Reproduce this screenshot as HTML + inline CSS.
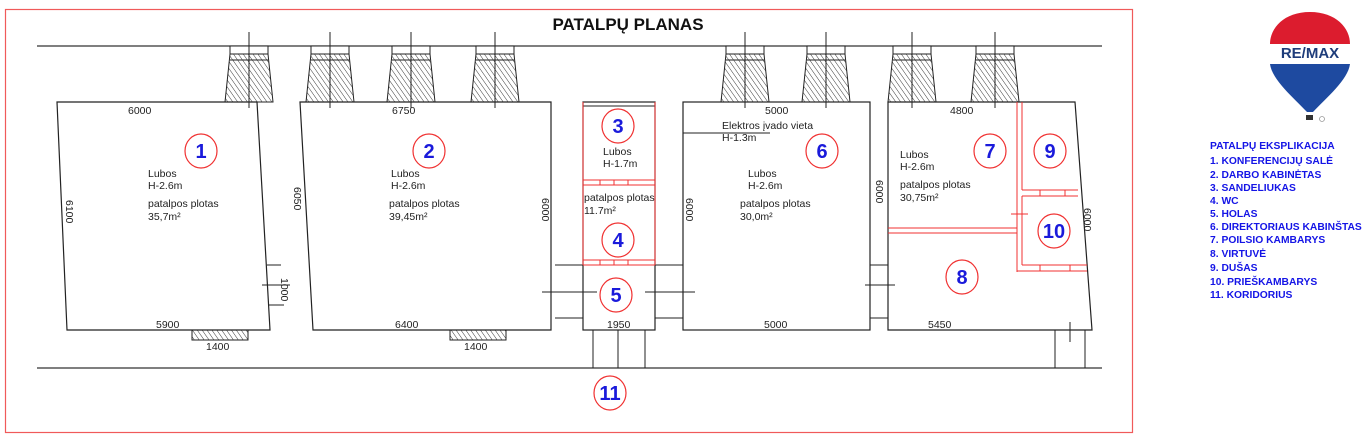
<!DOCTYPE html>
<html><head><meta charset="utf-8"><style>
body{margin:0;background:#fff;width:1366px;height:445px;overflow:hidden}
svg{display:block}
text{font-family:"Liberation Sans",Arial,sans-serif}
.t{font-size:10.5px;fill:#222}
.n{font-size:20px;font-weight:bold;fill:#1a1adb;text-anchor:middle}
.l{font-size:10.3px;font-weight:bold;fill:#1414e6}
</style></head><body>
<svg width="1366" height="445" viewBox="0 0 1366 445">
<defs>
<pattern id="h" width="4" height="4" patternUnits="userSpaceOnUse" patternTransform="rotate(-35)">
<line x1="0" y1="0" x2="0" y2="4" stroke="#222" stroke-width="0.9"/></pattern>
<g id="c">
<rect x="-19" y="46" width="38" height="8" fill="#fff"/>
<polygon points="-19,54 19,54 24,102 -24,102" fill="url(#h)"/>
<line x1="-19" y1="60" x2="19" y2="60"/>
<line x1="0" y1="32" x2="0" y2="108"/>
</g>
</defs>
<rect x="5.5" y="9.5" width="1127" height="423" fill="none" stroke="#f05a5a" stroke-width="1.2"/>
<text x="628" y="30" font-size="17" font-weight="bold" text-anchor="middle" fill="#111">PATALPŲ PLANAS</text>
<g stroke="#333" stroke-width="1.2" fill="none">
<line x1="37" y1="46" x2="1102" y2="46"/>
<line x1="37" y1="368" x2="1102" y2="368"/>
</g>
<g stroke="#222" stroke-width="1">
<use href="#c" x="249"/><use href="#c" x="330"/><use href="#c" x="411"/><use href="#c" x="495"/>
<use href="#c" x="745"/><use href="#c" x="826"/><use href="#c" x="912"/><use href="#c" x="995"/>
</g>
<g stroke="#222" stroke-width="1.2" fill="none">
<polygon points="57,102 257,102 270,330 67,330"/>
<polygon points="300,102 551,102 551,330 313,330"/>
<rect x="683" y="102" width="187" height="228"/>
<polygon points="888,102 1075,102 1092,330 888,330"/>
<rect x="583" y="102" width="72" height="228"/>
</g>
<g stroke="#222" stroke-width="1" fill="none">
<rect x="192" y="330" width="56" height="10" fill="url(#h)"/>
<rect x="450" y="330" width="56" height="10" fill="url(#h)"/>
<line x1="267" y1="265" x2="281" y2="265"/><line x1="269" y1="305" x2="284" y2="305"/>
<line x1="262" y1="285" x2="290" y2="285"/>
<line x1="555" y1="265" x2="583" y2="265"/><line x1="555" y1="318" x2="583" y2="318"/>
<line x1="655" y1="265" x2="683" y2="265"/><line x1="655" y1="318" x2="683" y2="318"/>
<line x1="542" y1="292" x2="597" y2="292"/><line x1="645" y1="292" x2="695" y2="292"/>
<line x1="870" y1="265" x2="888" y2="265"/><line x1="870" y1="318" x2="888" y2="318"/>
<line x1="865" y1="285" x2="895" y2="285"/>
<line x1="593" y1="330" x2="593" y2="368"/><line x1="618" y1="330" x2="618" y2="368"/><line x1="645" y1="330" x2="645" y2="368"/>
<line x1="1055" y1="330" x2="1055" y2="368"/><line x1="1085" y1="330" x2="1085" y2="368"/>
<line x1="1070" y1="322" x2="1070" y2="342"/>
<line x1="683" y1="133" x2="770" y2="133"/>
<line x1="583" y1="106" x2="655" y2="106"/>
</g>
<g stroke="#f03030" stroke-width="1" fill="none">
<line x1="583" y1="102" x2="583" y2="265"/><line x1="655" y1="102" x2="655" y2="265"/>
<line x1="583" y1="180" x2="655" y2="180"/><line x1="583" y1="185" x2="655" y2="185"/>
<line x1="583" y1="260" x2="655" y2="260"/><line x1="583" y1="265" x2="655" y2="265"/>
<line x1="600" y1="180" x2="600" y2="185"/><line x1="614" y1="180" x2="614" y2="185"/><line x1="628" y1="180" x2="628" y2="185"/>
<line x1="600" y1="260" x2="600" y2="265"/><line x1="614" y1="260" x2="614" y2="265"/><line x1="628" y1="260" x2="628" y2="265"/>
<line x1="1017" y1="102" x2="1017" y2="272"/><line x1="1022" y1="102" x2="1022" y2="190"/>
<line x1="1022" y1="190" x2="1078" y2="190"/><line x1="1022" y1="196" x2="1078" y2="196"/>
<line x1="1022" y1="196" x2="1022" y2="265"/>
<line x1="1022" y1="265" x2="1087" y2="265"/><line x1="1017" y1="271" x2="1087" y2="271"/>
<line x1="888" y1="228" x2="1017" y2="228"/><line x1="888" y1="233" x2="1017" y2="233"/>
<line x1="1040" y1="190" x2="1040" y2="196"/><line x1="1065" y1="190" x2="1065" y2="196"/>
<line x1="1040" y1="265" x2="1040" y2="271"/><line x1="1070" y1="265" x2="1070" y2="271"/>
<line x1="1011" y1="214" x2="1028" y2="214"/>
</g>
<g fill="#fff" stroke="#f03030" stroke-width="1.2">
<ellipse cx="201" cy="151" rx="16" ry="17"/><ellipse cx="429" cy="151" rx="16" ry="17"/>
<ellipse cx="618" cy="126" rx="16" ry="17"/><ellipse cx="618" cy="240" rx="16" ry="17"/>
<ellipse cx="616" cy="295" rx="16" ry="17"/><ellipse cx="822" cy="151" rx="16" ry="17"/>
<ellipse cx="990" cy="151" rx="16" ry="17"/><ellipse cx="962" cy="277" rx="16" ry="17"/>
<ellipse cx="1050" cy="151" rx="16" ry="17"/><ellipse cx="1054" cy="231" rx="16" ry="17"/>
<ellipse cx="610" cy="393" rx="16" ry="17"/>
</g>
<g>
<text x="201" y="158" class="n">1</text><text x="429" y="158" class="n">2</text>
<text x="618" y="133" class="n">3</text><text x="618" y="247" class="n">4</text>
<text x="616" y="302" class="n">5</text><text x="822" y="158" class="n">6</text>
<text x="990" y="158" class="n">7</text><text x="962" y="284" class="n">8</text>
<text x="1050" y="158" class="n">9</text><text x="1054" y="238" class="n">10</text>
<text x="610" y="400" class="n">11</text>
</g>
<g>
<text x="148" y="177" class="t">Lubos</text><text x="148" y="189" class="t">H-2.6m</text>
<text x="148" y="207" class="t">patalpos plotas</text><text x="148" y="220" class="t">35,7m²</text>
<text x="391" y="177" class="t">Lubos</text><text x="391" y="189" class="t">H-2.6m</text>
<text x="389" y="207" class="t">patalpos plotas</text><text x="389" y="220" class="t">39,45m²</text>
<text x="603" y="155" class="t">Lubos</text><text x="603" y="167" class="t">H-1.7m</text>
<text x="584" y="201" class="t">patalpos plotas</text><text x="584" y="214" class="t">11.7m²</text>
<text x="722" y="129" class="t">Elektros įvado vieta</text><text x="722" y="141" class="t">H-1.3m</text>
<text x="748" y="177" class="t">Lubos</text><text x="748" y="189" class="t">H-2.6m</text>
<text x="740" y="207" class="t">patalpos plotas</text><text x="740" y="220" class="t">30,0m²</text>
<text x="900" y="158" class="t">Lubos</text><text x="900" y="170" class="t">H-2.6m</text>
<text x="900" y="188" class="t">patalpos plotas</text><text x="900" y="201" class="t">30,75m²</text>
<text x="128" y="114" class="t">6000</text><text x="392" y="114" class="t">6750</text>
<text x="765" y="114" class="t">5000</text><text x="950" y="114" class="t">4800</text>
<text x="156" y="328" class="t">5900</text><text x="395" y="328" class="t">6400</text>
<text x="607" y="328" class="t">1950</text><text x="764" y="328" class="t">5000</text>
<text x="928" y="328" class="t">5450</text>
<text x="206" y="350" class="t">1400</text><text x="464" y="350" class="t">1400</text>
<text class="t" transform="translate(66,200) rotate(90)">6100</text>
<text class="t" transform="translate(294,187) rotate(90)">6050</text>
<text class="t" transform="translate(281,278) rotate(90)">1000</text>
<text class="t" transform="translate(542,198) rotate(90)">6000</text>
<text class="t" transform="translate(686,198) rotate(90)">6000</text>
<text class="t" transform="translate(876,180) rotate(90)">6000</text>
<text class="t" transform="translate(1084,208) rotate(90)">6000</text>
</g>
<g>
<path d="M1310,12 C1284,12 1270,28 1270,44 L1350,44 C1350,28 1336,12 1310,12Z" fill="#dc1c2e"/>
<path d="M1270,44 L1350,44 L1350,64 L1270,64Z" fill="#fff"/>
<path d="M1270,64 L1350,64 C1348,80 1326,98 1313,112 L1307,112 C1294,98 1272,80 1270,64Z" fill="#1e4aa0"/>
<text x="1310" y="58" font-size="15" font-weight="bold" fill="#1e3c7a" text-anchor="middle">RE/MAX</text>
<rect x="1306" y="115" width="7" height="5" fill="#333"/>
<circle cx="1322" cy="119" r="2.5" fill="none" stroke="#999" stroke-width="0.8"/>
</g>
<g>
<text x="1210" y="149" class="l">PATALPŲ EKSPLIKACIJA</text>
<text x="1210" y="164" class="l">1.  KONFERENCIJŲ SALĖ</text>
<text x="1210" y="178" class="l">2. DARBO KABINĖTAS</text>
<text x="1210" y="191" class="l">3. SANDELIUKAS</text>
<text x="1210" y="204" class="l">4. WC</text>
<text x="1210" y="217" class="l">5. HOLAS</text>
<text x="1210" y="230" class="l">6. DIREKTORIAUS KABINŠTAS</text>
<text x="1210" y="243" class="l">7. POILSIO KAMBARYS</text>
<text x="1210" y="257" class="l">8. VIRTUVĖ</text>
<text x="1210" y="271" class="l">9. DUŠAS</text>
<text x="1210" y="285" class="l">10. PRIEŠKAMBARYS</text>
<text x="1210" y="298" class="l">11. KORIDORIUS</text>
</g>
</svg>
</body></html>
